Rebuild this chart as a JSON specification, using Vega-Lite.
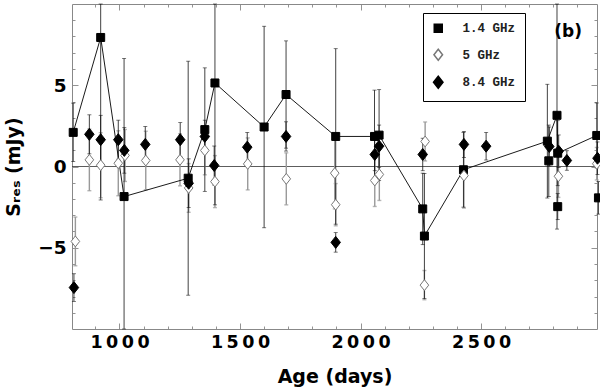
{
  "$schema": "https://vega.github.io/schema/vega-lite/v6.json",
  "autosize": {"type": "none"},
  "padding": {"left": 72, "top": 4, "right": 3, "bottom": 61},
  "width": 525,
  "height": 325,
  "background": "white",
  "config": {
    "view": {"stroke": null},
    "axis": {"domainColor": "#888", "domainWidth": 1, "tickColor": "#777", "tickWidth": 0.8, "grid": false,
             "labelFont": "DejaVu Sans", "labelFontWeight": "bold", "labelFontSize": 17.5, "labelColor": "black",
             "titleFont": "DejaVu Sans", "titleFontWeight": "bold", "titleFontSize": 19, "titleColor": "black"}
  },
  "data": {"values": [
    {"band": "1.4 GHz", "age": 808, "s": 2.10, "err": 1.8, "conn": 1},
    {"band": "1.4 GHz", "age": 922, "s": 7.94, "err": 10.0, "conn": 1},
    {"band": "1.4 GHz", "age": 1019, "s": -1.85, "err": 8.5, "conn": 1},
    {"band": "1.4 GHz", "age": 1285, "s": -0.72, "err": 7.2, "conn": 1},
    {"band": "1.4 GHz", "age": 1354, "s": 2.27, "err": 3.8, "conn": 1},
    {"band": "1.4 GHz", "age": 1396, "s": 5.14, "err": 7.5, "conn": 1},
    {"band": "1.4 GHz", "age": 1600, "s": 2.43, "err": 6.2, "conn": 1},
    {"band": "1.4 GHz", "age": 1691, "s": 4.43, "err": 3.3, "conn": 1},
    {"band": "1.4 GHz", "age": 1897, "s": 1.85, "err": 5.4, "conn": 1},
    {"band": "1.4 GHz", "age": 2058, "s": 1.85, "err": 2.85, "conn": 1},
    {"band": "1.4 GHz", "age": 2077, "s": 1.93, "err": 2.8, "conn": 1},
    {"band": "1.4 GHz", "age": 2258, "s": -2.61, "err": 2.2, "conn": 1},
    {"band": "1.4 GHz", "age": 2265, "s": -4.28, "err": 3.85, "conn": 1},
    {"band": "1.4 GHz", "age": 2427, "s": -0.20, "err": 2.3, "conn": 1},
    {"band": "1.4 GHz", "age": 2775, "s": 1.56, "err": 3.5, "conn": 1},
    {"band": "1.4 GHz", "age": 2781, "s": 0.35, "err": 2.2, "conn": 0},
    {"band": "1.4 GHz", "age": 2815, "s": 3.15, "err": 7.0, "conn": 1},
    {"band": "1.4 GHz", "age": 2818, "s": 0.82, "err": 2.0, "conn": 1},
    {"band": "1.4 GHz", "age": 2818, "s": -2.47, "err": 0.8, "conn": 0},
    {"band": "1.4 GHz", "age": 2980, "s": 1.91, "err": 2.0, "conn": 1},
    {"band": "1.4 GHz", "age": 2987, "s": -1.93, "err": 1.0, "conn": 0},
    {"band": "5 GHz", "age": 817, "s": -4.61, "err": 1.5},
    {"band": "5 GHz", "age": 875, "s": 0.41, "err": 1.9},
    {"band": "5 GHz", "age": 922, "s": 0.08, "err": 2.0},
    {"band": "5 GHz", "age": 995, "s": 0.20, "err": 2.0},
    {"band": "5 GHz", "age": 1023, "s": 0.68, "err": 1.6},
    {"band": "5 GHz", "age": 1109, "s": 0.37, "err": 1.8},
    {"band": "5 GHz", "age": 1251, "s": 0.41, "err": 1.6},
    {"band": "5 GHz", "age": 1287, "s": -1.32, "err": 1.5},
    {"band": "5 GHz", "age": 1354, "s": 0.99, "err": 1.5},
    {"band": "5 GHz", "age": 1396, "s": -0.93, "err": 1.6},
    {"band": "5 GHz", "age": 1532, "s": 0.16, "err": 1.6},
    {"band": "5 GHz", "age": 1692, "s": -0.76, "err": 1.6},
    {"band": "5 GHz", "age": 1893, "s": -0.41, "err": 2.2},
    {"band": "5 GHz", "age": 1897, "s": -2.35, "err": 1.3},
    {"band": "5 GHz", "age": 2059, "s": -0.86, "err": 1.6},
    {"band": "5 GHz", "age": 2078, "s": -0.49, "err": 1.6},
    {"band": "5 GHz", "age": 2265, "s": -7.30, "err": 0.9},
    {"band": "5 GHz", "age": 2268, "s": 1.54, "err": 1.2},
    {"band": "5 GHz", "age": 2429, "s": -0.56, "err": 2.0},
    {"band": "5 GHz", "age": 2821, "s": -0.60, "err": 1.3},
    {"band": "5 GHz", "age": 2980, "s": 0.17, "err": 1.0},
    {"band": "8.4 GHz", "age": 811, "s": -7.45, "err": 0.85},
    {"band": "8.4 GHz", "age": 875, "s": 1.98, "err": 1.2},
    {"band": "8.4 GHz", "age": 922, "s": 1.65, "err": 1.5},
    {"band": "8.4 GHz", "age": 995, "s": 1.65, "err": 1.2},
    {"band": "8.4 GHz", "age": 1020, "s": 0.99, "err": 1.4},
    {"band": "8.4 GHz", "age": 1107, "s": 1.36, "err": 1.1},
    {"band": "8.4 GHz", "age": 1252, "s": 1.65, "err": 1.05},
    {"band": "8.4 GHz", "age": 1287, "s": -1.03, "err": 1.5},
    {"band": "8.4 GHz", "age": 1354, "s": 1.85, "err": 1.0},
    {"band": "8.4 GHz", "age": 1393, "s": 0.06, "err": 1.2},
    {"band": "8.4 GHz", "age": 1530, "s": 1.19, "err": 0.9},
    {"band": "8.4 GHz", "age": 1691, "s": 1.85, "err": 0.9},
    {"band": "8.4 GHz", "age": 1897, "s": -4.67, "err": 0.6},
    {"band": "8.4 GHz", "age": 2059, "s": 0.74, "err": 1.0},
    {"band": "8.4 GHz", "age": 2077, "s": 1.25, "err": 1.3},
    {"band": "8.4 GHz", "age": 2258, "s": 0.74, "err": 1.0},
    {"band": "8.4 GHz", "age": 2429, "s": 1.36, "err": 0.8},
    {"band": "8.4 GHz", "age": 2521, "s": 1.25, "err": 0.85},
    {"band": "8.4 GHz", "age": 2783, "s": 1.23, "err": 1.2},
    {"band": "8.4 GHz", "age": 2822, "s": 0.94, "err": 1.0},
    {"band": "8.4 GHz", "age": 2856, "s": 0.37, "err": 0.6},
    {"band": "8.4 GHz", "age": 2983, "s": 0.51, "err": 1.0}
  ]},
  "resolve": {"axis": {"x": "independent", "y": "independent"}},
  "layer": [
    {
      "data": {"values": [{}]},
      "mark": {"type": "rule", "color": "#333", "strokeWidth": 0.8},
      "encoding": {"y": {"datum": 0, "type": "quantitative", "axis": null,
                         "scale": {"domain": [-10, 10], "clamp": true}}}
    },
    {
      "transform": [{"filter": "datum.band == '5 GHz'"}],
      "mark": {"type": "errorbar", "color": "#999", "thickness": 1.4, "ticks": {"size": 4}},
      "encoding": {
        "x": {"field": "age", "type": "quantitative", "axis": null},
        "y": {"field": "s", "type": "quantitative", "axis": null},
        "yError": {"field": "err"}
      }
    },
    {
      "transform": [{"filter": "datum.band != '5 GHz'"}],
      "mark": {"type": "errorbar", "color": "#111", "thickness": 0.8, "ticks": {"size": 4}},
      "encoding": {
        "x": {"field": "age", "type": "quantitative", "axis": null},
        "y": {"field": "s", "type": "quantitative", "axis": null},
        "yError": {"field": "err"}
      }
    },
    {
      "transform": [{"filter": "datum.conn == 1"}],
      "mark": {"type": "line", "color": "black", "strokeWidth": 0.9},
      "encoding": {
        "x": {"field": "age", "type": "quantitative",
              "axis": {"orient": "top", "values": [900,1000,1100,1200,1300,1400,1500,1600,1700,1800,1900,2000,2100,2200,2300,2400,2500,2600,2700,2800,2900],
                       "labels": false, "title": null,
                       "tickSize": {"condition": {"test": "datum.value % 500 == 0", "value": -6}, "value": -3}}},
        "y": {"field": "s", "type": "quantitative",
              "axis": {"orient": "right", "values": [-9,-8,-7,-6,-5,-4,-3,-2,-1,0,1,2,3,4,5,6,7,8,9],
                       "labels": false, "title": null,
                       "tickSize": {"condition": {"test": "datum.value % 5 == 0", "value": -6}, "value": -3}}}
      }
    },
    {
      "mark": {"type": "point", "filled": false, "opacity": 1, "strokeWidth": 1},
      "encoding": {
        "x": {"field": "age", "type": "quantitative",
              "scale": {"domain": [803, 2981], "nice": false, "zero": false},
              "axis": {"orient": "bottom", "title": "Age (days)", "titlePadding": 17, "labelPadding": 10,
                       "values": [900,1000,1100,1200,1300,1400,1500,1600,1700,1800,1900,2000,2100,2200,2300,2400,2500,2600,2700,2800,2900],
                       "labelExpr": "datum.value % 500 == 0 ? join(split(format(datum.value, 'd'), ''), '\u2009') : ''",
                       "tickSize": {"condition": {"test": "datum.value % 500 == 0", "value": -6}, "value": -3}}},
        "y": {"field": "s", "type": "quantitative",
              "scale": {"domain": [-10, 10], "nice": false, "clamp": true},
              "axis": {"orient": "left", "title": "S\u1d63\u2091\u209b (mJy)", "titlePadding": 14, "labelPadding": 12,
                       "labelFontSize": 18.5,
                       "values": [-9,-8,-7,-6,-5,-4,-3,-2,-1,0,1,2,3,4,5,6,7,8,9],
                       "labelExpr": "datum.value % 5 == 0 ? replace(format(datum.value, 'd'), '-', '\u2013\u2009') : ''",
                       "tickSize": {"condition": {"test": "datum.value % 5 == 0", "value": -6}, "value": -3}}},
        "shape": {"field": "band", "type": "nominal",
                  "scale": {"domain": ["1.4 GHz", "5 GHz", "8.4 GHz"],
                            "range": ["square", "M0,-1.2L0.95,0L0,1.2L-0.95,0Z", "M0,-1.2L0.95,0L0,1.2L-0.95,0Z"]},
                  "legend": {"orient": "none", "legendX": 351, "legendY": 9, "title": null,
                             "strokeColor": "black", "fillColor": "white", "padding": 9,
                             "labelFont": "Liberation Mono", "labelFontSize": 12.5, "labelFontWeight": "bold",
                             "labelColor": "#222", "rowPadding": 9.5, "labelOffset": 18,
                             "labelExpr": "datum.label == '5 GHz' ? '\u00a0\u00a05 GHz' : datum.label"}},
        "fill": {"field": "band", "type": "nominal",
                 "scale": {"domain": ["1.4 GHz", "5 GHz", "8.4 GHz"], "range": ["black", "white", "black"]}},
        "stroke": {"field": "band", "type": "nominal",
                   "scale": {"domain": ["1.4 GHz", "5 GHz", "8.4 GHz"], "range": ["black", "#777", "black"]}},
        "size": {"field": "band", "type": "nominal",
                 "scale": {"domain": ["1.4 GHz", "5 GHz", "8.4 GHz"], "range": [64, 100, 100]}}
      }
    },
    {
      "data": {"values": [{"label": "(b)", "age": 2861, "s": 8.27}]},
      "mark": {"type": "text", "font": "DejaVu Sans", "fontWeight": "bold", "fontSize": 17, "align": "center", "baseline": "middle"},
      "encoding": {
        "x": {"field": "age", "type": "quantitative", "axis": null},
        "y": {"field": "s", "type": "quantitative", "axis": null},
        "text": {"field": "label"}
      }
    }
  ]
}
